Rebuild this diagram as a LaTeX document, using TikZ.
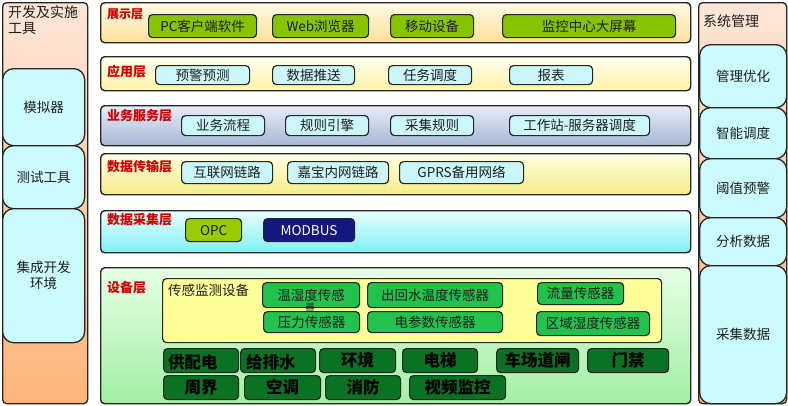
\documentclass[tikz,border=0pt]{standalone}
\usepackage{fontspec}
\setmainfont{Noto Sans CJK SC}
\definecolor{peach}{HTML}{FDE6D8}
\definecolor{orng}{HTML}{FDB57A}
\definecolor{cyanbox}{HTML}{CCFBFE}
\definecolor{itemcyan}{HTML}{CCF7FA}
\definecolor{lime}{HTML}{86C400}
\definecolor{opcg}{HTML}{99CC00}
\definecolor{navy}{HTML}{14187E}
\definecolor{sens}{HTML}{22C24E}
\definecolor{dkg}{HTML}{0A7222}
\definecolor{redl}{HTML}{CC0000}
\definecolor{ylw}{HTML}{FFFF99}
\definecolor{txt}{HTML}{1E1E1E}
\definecolor{l1t}{HTML}{FFF9E6}\definecolor{l1b}{HTML}{FFE09A}
\definecolor{l2t}{HTML}{FFFFF0}\definecolor{l2b}{HTML}{FFF3A8}
\definecolor{l3t}{HTML}{E8EEF8}\definecolor{l3b}{HTML}{A6B6D6}
\definecolor{l4t}{HTML}{FFFFE4}\definecolor{l4b}{HTML}{F5EC84}
\definecolor{l5t}{HTML}{EAFFFF}\definecolor{l5b}{HTML}{7EEFF3}
\definecolor{l6t}{HTML}{E6FFE6}\definecolor{l6b}{HTML}{A2EFA2}
\newcommand\bx[7]{%
  \pgfmathsetmacro\bw{#4-#2}\pgfmathsetmacro\bh{#5-#3}%
  \node[#6, minimum width=\bw pt, minimum height=\bh pt, anchor=north west, inner sep=0pt] (#1) at (#2,#3) {#7};}
\begin{document}
\begin{tikzpicture}[x=1pt,y=-1pt,
  col/.style={draw=black!85, line width=1.3pt, rounded corners=4pt, top color=peach, bottom color=orng},
  side/.style={draw=black!85, line width=1.3pt, rounded corners=11pt, fill=cyanbox, text=txt, font=\fontsize{13.5}{16}\selectfont, align=center},
  lay/.style={draw=black!85, line width=1.4pt, rounded corners=4pt},
  lbl/.style={anchor=west, text=redl, font=\bfseries\fontsize{13}{15}\selectfont, inner sep=0pt},
  item/.style={draw=black!85, line width=1.2pt, rounded corners=4pt, text=txt, font=\fontsize{13.5}{15}\selectfont},
  gbtn/.style={item, fill=lime},
  cbtn/.style={item, fill=itemcyan},
  sbtn/.style={item, fill=sens},
  dbtn/.style={item, fill=dkg, text=black, font=\bfseries\fontsize{16.5}{18}\selectfont},
]
\useasboundingbox (0,0) rectangle (788,405);
% left column
\bx{lcol}{2}{2}{87}{403}{col}{}
\node[anchor=west, text=txt, font=\fontsize{14}{16}\selectfont, inner sep=0pt] (ltitle1) at (8,12) {开发及实施};
\node[anchor=west, text=txt, font=\fontsize{14}{16}\selectfont, inner sep=0pt] (ltitle2) at (8,29) {工具};
\bx{sim}{2}{68}{84}{145}{side}{模拟器}
\bx{test}{2}{145}{84}{208}{side}{测试工具}
\bx{ide}{2}{208}{84}{342}{side}{集成开发\\环境}
% right column
\bx{rcol}{698}{2}{786}{403}{col}{}
\node[anchor=west, text=txt, font=\fontsize{14}{16}\selectfont, inner sep=0pt] (rtitle) at (703,21) {系统管理};
\bx{r1}{699}{44}{786}{107}{side}{管理优化}
\bx{r2}{699}{107}{786}{158}{side}{智能调度}
\bx{r3}{699}{158}{786}{217}{side}{阈值预警}
\bx{r4}{699}{217}{786}{265}{side}{分析数据}
\bx{r5}{699}{265}{786}{403}{side}{采集数据}
% layers
\bx{L1}{100}{2}{690}{42}{lay, top color=l1t, bottom color=l1b}{}
\bx{L2}{100}{56}{690}{90}{lay, top color=l2t, bottom color=l2b}{}
\bx{L3}{100}{105}{690}{145}{lay, top color=l3t, bottom color=l3b}{}
\bx{L4}{100}{153}{690}{194}{lay, top color=l4t, bottom color=l4b}{}
\bx{L5}{100}{210}{690}{252}{lay, top color=l5t, bottom color=l5b}{}
\bx{L6}{100}{267}{690}{403}{lay, top color=l6t, bottom color=l6b}{}
\node[lbl, font=\bfseries\fontsize{12}{14}\selectfont] (n1) at (107,14) {展示层};
\node[lbl] (n2) at (107,72) {应用层};
\node[lbl] (n3) at (107,116) {业务服务层};
\node[lbl] (n4) at (107,167) {数据传输层};
\node[lbl] (n5) at (107,220) {数据采集层};
\node[lbl] (n6) at (107,288) {设备层};
% presentation
\bx{p1}{148}{14}{256}{37}{gbtn}{PC客户端软件}
\bx{p2}{272}{14}{368}{37}{gbtn}{Web浏览器}
\bx{p3}{390}{14}{473}{37}{gbtn}{移动设备}
\bx{p4}{502}{14}{675}{37}{gbtn}{监控中心大屏幕}
% application
\bx{a1}{155}{65}{249}{84}{cbtn}{预警预测}
\bx{a2}{272}{65}{354}{84}{cbtn}{数据推送}
\bx{a3}{388}{65}{471}{84}{cbtn}{任务调度}
\bx{a4}{509}{65}{592}{84}{cbtn}{报表}
% business service
\bx{b1}{181}{115}{264}{135}{cbtn}{业务流程}
\bx{b2}{285}{115}{368}{135}{cbtn}{规则引擎}
\bx{b3}{390}{115}{473}{135}{cbtn}{采集规则}
\bx{b4}{509}{115}{649}{135}{cbtn}{工作站-服务器调度}
% transport
\bx{t1}{181}{161}{272}{183}{cbtn}{互联网链路}
\bx{t2}{287}{161}{388}{183}{cbtn}{嘉宝内网链路}
\bx{t3}{399}{161}{523}{183}{cbtn}{GPRS备用网络}
% acquisition
\bx{c1}{185}{218}{241}{241}{item, fill=opcg}{OPC}
\bx{c2}{263}{218}{354}{241}{item, fill=navy, text=white}{MODBUS}
% devices
\bx{sbox}{162}{278}{661}{342}{item, fill=ylw}{}
\node[anchor=west, text=txt, font=\fontsize{13.5}{15}\selectfont, inner sep=0pt] (sl) at (168,290) {传感监测设备};
\bx{s1}{262}{282}{359}{307}{sbtn}{温湿度传感}
\bx{s2}{263}{311}{359}{332}{sbtn}{压力传感器}
\node[text=txt, font=\fontsize{9}{10}\selectfont, inner sep=0pt] (s1w) at (310,307) {器};
\bx{s3}{367}{282}{502}{307}{sbtn}{出回水温度传感器}
\bx{s4}{367}{311}{502}{332}{sbtn}{电参数传感器}
\bx{s5}{537}{282}{623}{304}{sbtn}{流量传感器}
\bx{s6}{536}{311}{649}{335}{sbtn}{区域湿度传感器}
\bx{d1}{163}{348}{238}{372}{dbtn}{}
\node[anchor=west, font=\bfseries\fontsize{16.5}{18}\selectfont, inner sep=0pt] (d1t) at (168,362) {供配电};
\bx{d2}{240}{348}{315}{372}{dbtn}{}
\node[anchor=west, font=\bfseries\fontsize{16.5}{18}\selectfont, inner sep=0pt] (d2t) at (246,362) {给排水};
\bx{d3}{319}{348}{395}{372}{dbtn}{环境}
\bx{d4}{402}{348}{477}{372}{dbtn}{电梯}
\bx{d5}{496}{348}{578}{372}{dbtn}{车场道闸}
\bx{d6}{587}{348}{668}{372}{dbtn}{门禁}
\bx{e1}{163}{375}{238}{399}{dbtn}{周界}
\bx{e2}{244}{375}{320}{399}{dbtn}{空调}
\bx{e3}{325}{375}{400}{399}{dbtn}{消防}
\bx{e4}{409}{375}{505}{399}{dbtn}{视频监控}
\end{tikzpicture}
\end{document}
